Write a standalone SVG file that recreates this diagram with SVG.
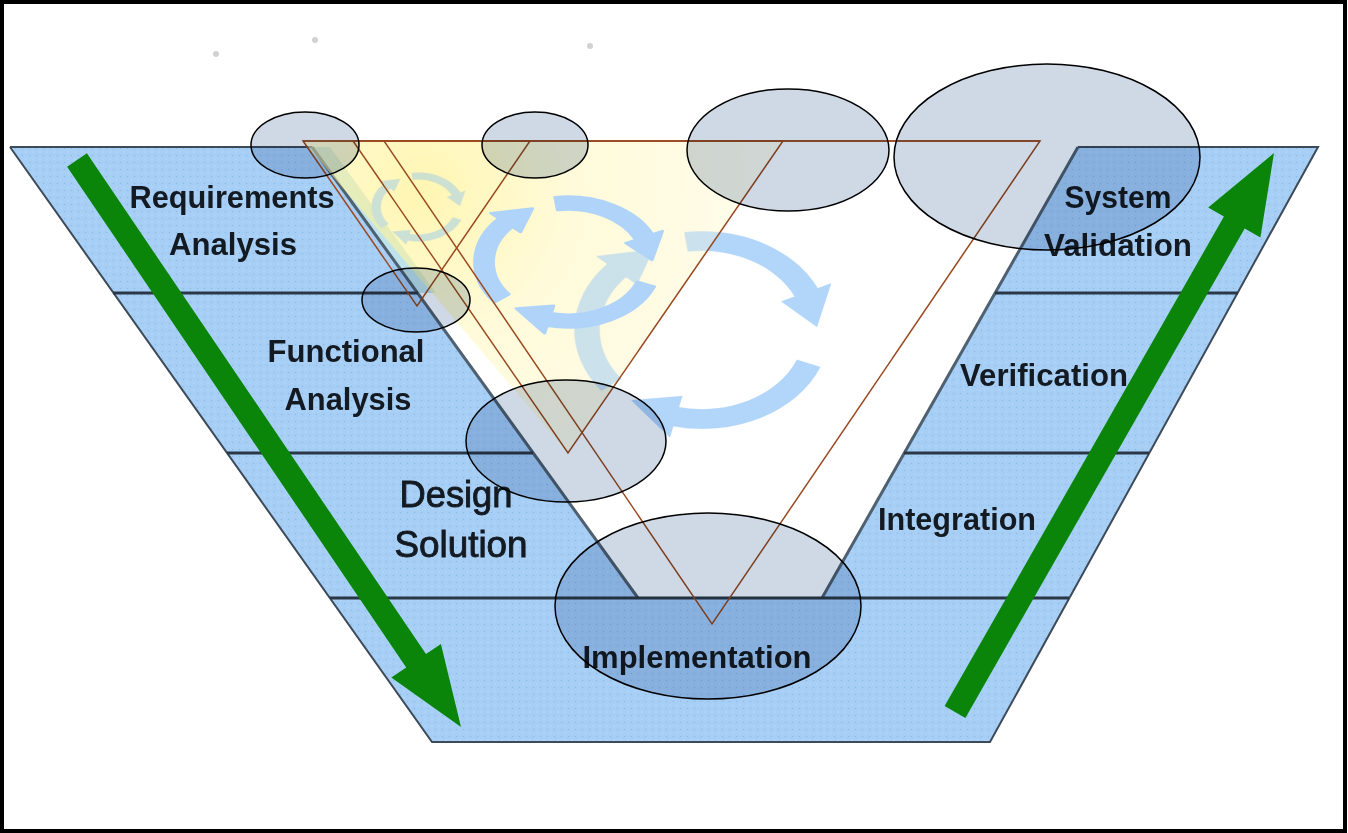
<svg xmlns="http://www.w3.org/2000/svg" width="1348" height="833" viewBox="0 0 1348 833">
<style>
.band{fill:#a7cff6}
.tex{fill:url(#dots)}
.edge{stroke:#3d4b59;stroke-width:2;fill:none}
.inner{stroke:#4f6070;stroke-width:3;fill:none}
.div{stroke:#2a3846;stroke-width:3}
.lbl{font-family:"Liberation Sans",Arial,sans-serif;font-weight:bold;font-size:32px;fill:#141a22;text-anchor:middle}
.lbl2{font-family:"Liberation Sans",Arial,sans-serif;font-weight:normal;font-size:36px;fill:#141a22;stroke:#141a22;stroke-width:0.9;text-anchor:middle}
.ell{fill:#cfd9e6;stroke:#000;stroke-width:1.5;mix-blend-mode:multiply}
.tri{fill:none;stroke:#9a4a22;stroke-width:1.5}
.cyc{fill:#b2d6fa}
.cycm{fill:#b0d4f9;stroke:#b0d4f9;stroke-width:4;stroke-linejoin:round}
.cycs{fill:#b4d8f6}
.garrow{fill:#0a850a}
.speck{fill:#d2d2d2}
</style>
<defs>
<pattern id="dots" width="7" height="7" patternUnits="userSpaceOnUse">
<circle cx="1.5" cy="1.5" r="0.8" fill="#8cbbe6"/>
<circle cx="5" cy="5" r="0.6" fill="#c4e0fa"/>
</pattern>
<radialGradient id="yel" gradientUnits="userSpaceOnUse" cx="420" cy="190" r="330">
<stop offset="0" stop-color="#fff07e"/>
<stop offset="0.45" stop-color="#fff7bf"/>
<stop offset="1" stop-color="#fffadc"/>
</radialGradient>
<g id="cycle">
<path d="M-15.45 -109.92 A111 111 0 0 1 100.60 -46.91 L112.38 -52.40 L99.94 -3.49 L68.88 -32.12 L80.66 -37.61 A89 89 0 0 0 -12.39 -88.14 Z"/>
<path d="M102.92 41.58 A111 111 0 0 1 -24.98 108.16 L-27.90 120.83 L-61.57 78.80 L-17.10 74.05 L-20.03 86.72 A89 89 0 0 0 82.52 33.34 Z"/>
<path d="M-87.47 68.34 A111 111 0 0 1 -82.48 -74.27 L-92.14 -82.97 L-42.26 -90.63 L-56.48 -50.85 L-66.14 -59.55 A89 89 0 0 0 -70.13 54.80 Z"/>
</g>
</defs>
<rect x="0" y="0" width="1348" height="833" fill="#ffffff"/>
<g id="vshape">
<polygon class="band" points="10,147 312,147 638,598 822,598 1078,147 1318,147 990,742 432,742"/>
<polygon class="tex" points="10,147 312,147 638,598 822,598 1078,147 1318,147 990,742 432,742"/>
<polygon points="312,147 330,147 436,293 418,293" fill="#bfe3ea"/>
<path class="edge" d="M10 147 L432 742 L990 742 L1318 147 L1078 147"/>
<path class="edge" d="M10 147 L312 147"/>
<path class="inner" d="M312 147 L638 598"/>
<path class="inner" d="M822 598 L1078 147"/>
<line class="div" x1="113" y1="293" x2="418" y2="293"/>
<line class="div" x1="227" y1="453" x2="533" y2="453"/>
<line class="div" x1="330" y1="598" x2="1069" y2="598"/>
<line class="div" x1="995" y1="293" x2="1238" y2="293"/>
<line class="div" x1="904" y1="453" x2="1149" y2="453"/>
</g>
<g id="cycles-back">
<use href="#cycle" class="cyc" transform="translate(702,330) scale(1.15,0.89)"/>
<use href="#cycle" class="cycs" transform="translate(418,207) scale(0.42,0.31)"/>
</g>
<polygon id="yellow-triangle" points="303,141 783,141 568,453" fill="url(#yel)" opacity="0.6"/>
<g id="cycles-tint" opacity="0.45">
<use href="#cycle" class="cyc" transform="translate(702,330) scale(1.15,0.89)"/>
<use href="#cycle" class="cycs" transform="translate(418,207) scale(0.42,0.31)"/>
</g>
<g id="cycle-mid">
<use href="#cycle" class="cycm" transform="translate(568,262) scale(0.84,0.59)"/>
</g>
<g id="node-requirements"><text class="lbl" x="232" y="208" textLength="205" lengthAdjust="spacingAndGlyphs">Requirements</text><text class="lbl" x="233" y="255" textLength="128" lengthAdjust="spacingAndGlyphs">Analysis</text></g>
<g id="node-functional"><text class="lbl" x="346" y="362" textLength="157" lengthAdjust="spacingAndGlyphs">Functional</text><text class="lbl" x="348" y="410" textLength="127" lengthAdjust="spacingAndGlyphs">Analysis</text></g>
<g id="node-design"><text class="lbl2" x="456" y="507" textLength="113" lengthAdjust="spacingAndGlyphs">Design</text><text class="lbl2" x="461" y="557" textLength="133" lengthAdjust="spacingAndGlyphs">Solution</text></g>
<g id="node-implementation"><text class="lbl" x="697" y="668" textLength="229" lengthAdjust="spacingAndGlyphs">Implementation</text></g>
<g id="node-integration"><text class="lbl" x="957" y="530" textLength="158" lengthAdjust="spacingAndGlyphs">Integration</text></g>
<g id="node-verification"><text class="lbl" x="1044" y="386" textLength="168" lengthAdjust="spacingAndGlyphs">Verification</text></g>
<g id="node-validation"><text class="lbl" x="1118" y="208" textLength="107" lengthAdjust="spacingAndGlyphs">System</text><text class="lbl" x="1118" y="256" textLength="148" lengthAdjust="spacingAndGlyphs">Validation</text></g>
<g id="triangles">
<line class="tri" x1="303" y1="141" x2="1040" y2="141"/>
<polygon class="tri" points="303,141 530,141 417,306"/>
<polygon class="tri" points="353,141 783,141 568,453"/>
<polygon class="tri" points="384,141 1040,141 712,624"/>
</g>
<g id="ellipses">
<ellipse class="ell" cx="305" cy="145" rx="54" ry="33"/>
<ellipse class="ell" cx="535" cy="145" rx="53" ry="33"/>
<ellipse class="ell" cx="788" cy="150" rx="101" ry="61"/>
<ellipse class="ell" cx="1047" cy="157" rx="153" ry="93"/>
<ellipse class="ell" cx="416" cy="300" rx="54" ry="32"/>
<ellipse class="ell" cx="566" cy="441" rx="100" ry="61"/>
<ellipse class="ell" cx="708" cy="606" rx="153" ry="93"/>
</g>
<g id="connectors">
<polygon class="garrow" points="86.9,153.3 426,654.1 440.9,644 461,727 391.3,677.6 406.2,667.5 67.1,166.7"/>
<polygon class="garrow" points="965.4,717.9 1244.7,228.4 1260.4,237.4 1274,153 1208.2,207.6 1223.9,216.6 944.6,706.1"/>
</g>
<g id="specks">
<circle class="speck" cx="216" cy="54" r="3"/>
<circle class="speck" cx="315" cy="40" r="3"/>
<circle class="speck" cx="590" cy="46" r="3"/>
</g>
<rect x="2" y="2" width="1343" height="829" fill="none" stroke="#000" stroke-width="4"/>
</svg>
